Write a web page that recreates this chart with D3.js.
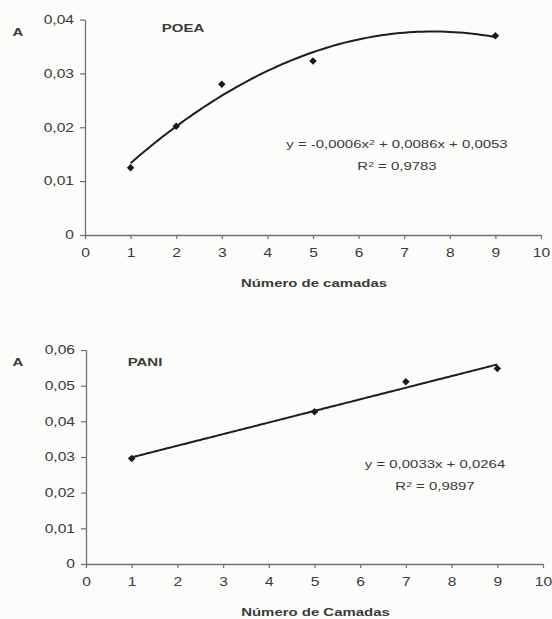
<!DOCTYPE html>
<html>
<head>
<meta charset="utf-8">
<script src="https://cdn.jsdelivr.net/npm/d3@7"></script>
<style>
  body { margin: 0; background: #fcfcfa; }
  svg { display: block; }
  text { font-family: "Liberation Sans", Arial, sans-serif; fill: #3a3a3a; }
</style>
</head>
<body>
<svg width="552" height="619"></svg>
<script>
// data
const poeaLayers = [1, 2, 3, 5, 9];
const poeaAbs = [0.0125, 0.0202, 0.0280, 0.0323, 0.0370];
const paniLayers = [1, 5, 7, 9];
const paniAbs = [0.0296, 0.0427, 0.0511, 0.0548];
const xTicks = [0, 1, 2, 3, 4, 5, 6, 7, 8, 9, 10];
const poeaYTicks = [0, 0.01, 0.02, 0.03, 0.04];
const paniYTicks = [0, 0.01, 0.02, 0.03, 0.04, 0.05, 0.06];

const SX = 1.3; // scan looks stretched sideways
const svg = d3.select('svg');
const loc = d3.formatLocale({decimal: ',', thousands: '.', grouping: [3], currency: ['', '']});
const f2 = loc.format('.2f');
const fmtY = d => d === 0 ? '0' : f2(d);

// least squares polynomial fit (degree 1 or 2)
function polyFit(xs, ys, deg) {
    const n = deg + 1;
    const A = [];
    for (let i = 0; i < n; i++) {
        A.push([]);
        for (let j = 0; j < n; j++) A[i].push(d3.sum(xs, x => Math.pow(x, i + j)));
        A[i].push(d3.sum(xs, (x, k) => Math.pow(x, i) * ys[k]));
    }
    for (let i = 0; i < n; i++) {
        for (let k = i + 1; k < n; k++) {
            const r = A[k][i] / A[i][i];
            for (let j = i; j <= n; j++) A[k][j] -= r * A[i][j];
        }
    }
    const c = new Array(n).fill(0);
    for (let i = n - 1; i >= 0; i--) {
        let s = A[i][n];
        for (let j = i + 1; j < n; j++) s -= A[i][j] * c[j];
        c[i] = s / A[i][i];
    }
    return x => c.reduce((acc, ci, i) => acc + ci * Math.pow(x, i), 0);
}

function label(x, y, txt, opts = {}) {
    return svg.append('text')
        .attr('transform', `translate(${x},${y}) scale(${SX},1)`)
        .attr('text-anchor', opts.anchor || 'middle')
        .attr('dy', '0.35em')
        .style('font-size', (opts.size || 11.5) + 'px')
        .style('font-weight', opts.bold ? 'bold' : 'normal')
        .text(txt);
}

function drawPanel(p) {
    const x = d3.scaleLinear().domain([0, 10]).range([p.left, p.right]);
    const y = d3.scaleLinear().domain(p.yDomain).range([p.bottom, p.top]);

    const xAxis = svg.append('g')
        .attr('transform', `translate(0,${p.bottom})`)
        .call(d3.axisBottom(x).tickValues(xTicks).tickSize(4).tickSizeOuter(0).tickPadding(9));
    const yAxis = svg.append('g')
        .attr('transform', `translate(${p.left},0)`)
        .call(d3.axisLeft(y).tickValues(p.yTicks).tickFormat(fmtY).tickSize(5).tickSizeOuter(0).tickPadding(6));

    [xAxis, yAxis].forEach(g => {
        g.select('.domain').attr('stroke', '#707070').attr('stroke-width', 1.3);
        g.selectAll('.tick line').attr('stroke', '#707070').attr('stroke-width', 1.2);
        g.selectAll('.tick text')
            .style('font-family', '"Liberation Sans", Arial, sans-serif')
            .style('font-size', '12px')
            .attr('fill', '#3a3a3a');
    });
    xAxis.selectAll('.tick text').attr('transform', `scale(${SX},1)`);
    yAxis.selectAll('.tick text').attr('x', -11 / SX).attr('transform', `scale(${SX},1)`);

    // trend line
    const fit = polyFit(p.xs, p.ys, p.deg);
    const pts = d3.range(p.xs[0], p.xs[p.xs.length - 1] + 0.001, 0.1);
    svg.append('path')
        .datum(pts)
        .attr('fill', 'none')
        .attr('stroke', '#1e1e1e')
        .attr('stroke-width', 2)
        .attr('d', d3.line().x(d => x(d)).y(d => y(fit(d))).curve(d3.curveMonotoneX));

    // markers
    svg.append('g').selectAll('path')
        .data(p.xs.map((v, i) => [v, p.ys[i]]))
        .join('path')
        .attr('transform', d => `translate(${x(d[0])},${y(d[1])})`)
        .attr('d', d3.symbol(d3.symbolDiamond2, 36))
        .attr('fill', '#1a1a1a');

    // labels
    label(18, p.top + 12, 'A', {bold: true});
    label(p.titleX, p.titleY, p.title, {bold: true});
    label((p.left + p.right) / 2 + 1, p.bottom + 48, p.xTitle, {bold: true});

    const eq = label(p.eqX, p.eqY, '');
    p.eq.forEach(part => {
        eq.append('tspan')
            .text(part.t)
            .attr('baseline-shift', part.sup ? '45%' : null)
            .style('font-size', part.sup ? '8px' : null);
    });
    const r2 = label(p.eqX, p.eqY + 22, '');
    r2.append('tspan').text('R');
    r2.append('tspan').text('2').attr('baseline-shift', '45%').style('font-size', '8px');
    r2.append('tspan').text(' = ' + p.r2);
}

drawPanel({
    left: 85, right: 541, top: 19.5, bottom: 235,
    yDomain: [0, 0.04], yTicks: poeaYTicks,
    xs: poeaLayers, ys: poeaAbs, deg: 2,
    title: 'POEA', titleX: 183, titleY: 28,
    xTitle: 'Número de camadas',
    eqX: 397, eqY: 144,
    eq: [{t: 'y = -0,0006x'}, {t: '2', sup: true}, {t: ' + 0,0086x + 0,0053'}],
    r2: '0,9783'
});

drawPanel({
    left: 86, right: 543, top: 350, bottom: 564,
    yDomain: [0, 0.06], yTicks: paniYTicks,
    xs: paniLayers, ys: paniAbs, deg: 1,
    title: 'PANI', titleX: 145, titleY: 362,
    xTitle: 'Número de Camadas',
    eqX: 435, eqY: 464,
    eq: [{t: 'y = 0,0033x + 0,0264'}],
    r2: '0,9897'
});
</script>
</body>
</html>
